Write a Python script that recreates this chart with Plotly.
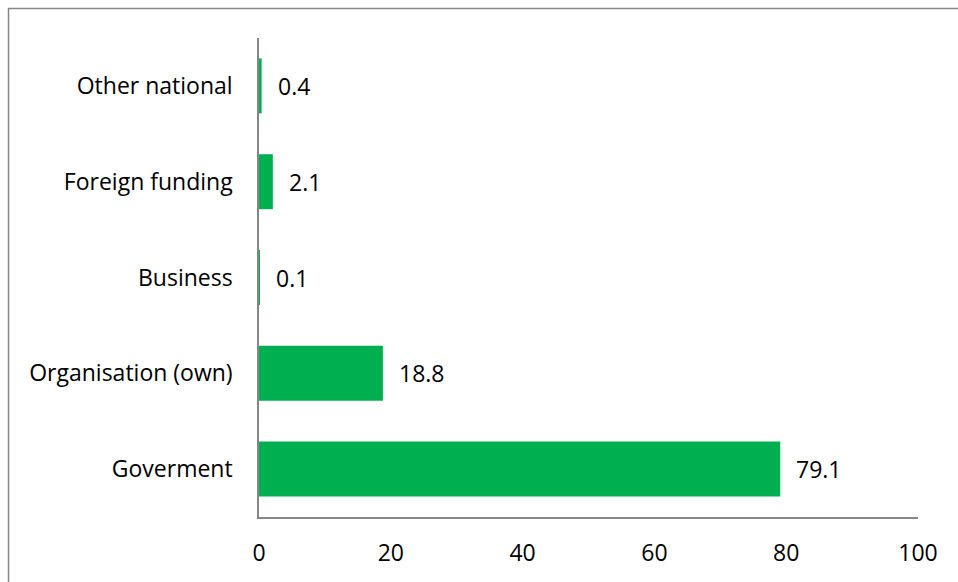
import plotly.graph_objects as go

categories = ["Goverment", "Organisation (own)", "Business", "Foreign funding", "Other national"]
values = [79.1, 18.8, 0.1, 2.1, 0.4]
value_labels = ["79.1", "18.8", "0.1", "2.1", "0.4"]
x_ticks = [0, 20, 40, 60, 80, 100]

W, H = 958, 582
L, R, T, B = 259, 40, 38, 65
pw, ph = W - L - R, H - T - B

def px2paper_x(px):
    return (px - L) / pw

def py2paper_y(py):
    return (H - B - py) / ph

FONT = "Open Sans"
FS = 23
fig = go.Figure()
fig.add_trace(go.Bar(
    x=values, y=categories, orientation="h",
    marker=dict(color="#00B050", line=dict(width=0)),
    hoverinfo="skip",
))

for c, v, t in zip(categories, values, value_labels):
    fig.add_annotation(x=v, y=c, text=t, showarrow=False, xanchor="left",
                       xshift=14, font=dict(family=FONT, size=FS, color="#000000"))

# outer chart border (top and left visible)
fig.add_shape(type="rect", xref="paper", yref="paper",
              x0=px2paper_x(8.5), x1=px2paper_x(975), y0=py2paper_y(8.5), y1=py2paper_y(600),
              line=dict(color="#868686", width=1.5), fillcolor="rgba(0,0,0,0)", layer="above")

fig.update_layout(
    width=W, height=H,
    margin=dict(l=L, r=R, t=T, b=B),
    paper_bgcolor="white", plot_bgcolor="white",
    bargap=0.426,
    showlegend=False,
    font=dict(family=FONT, size=FS, color="#000000"),
    xaxis=dict(range=[0, 100], tickvals=x_ticks, ticktext=[str(v) for v in x_ticks],
               showgrid=False, zeroline=False, showline=True, linecolor="#868686",
               linewidth=1.5, ticks="", ticklabelstandoff=15,
               tickfont=dict(family=FONT, size=FS, color="#000000"), fixedrange=True),
    yaxis=dict(categoryorder="array", categoryarray=categories,
               showgrid=False, zeroline=False, showline=True, linecolor="#868686",
               linewidth=1.5, ticks="", ticklabelstandoff=20,
               tickfont=dict(family=FONT, size=FS, color="#000000"), fixedrange=True),
)

fig.write_html("out.html", config={"displayModeBar": False})
